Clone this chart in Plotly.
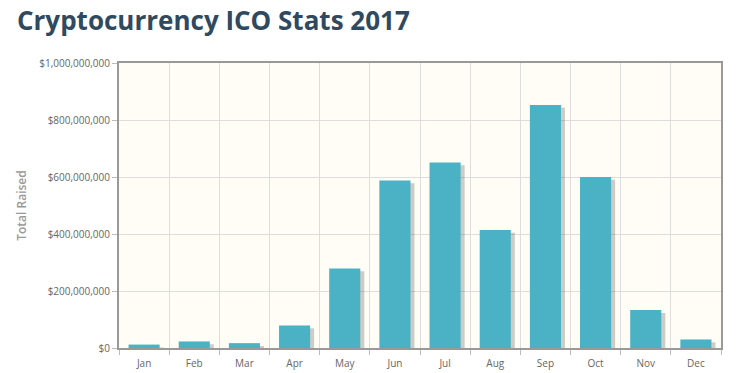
import plotly.graph_objects as go

months = ["Jan", "Feb", "Mar", "Apr", "May", "Jun", "Jul", "Aug", "Sep", "Oct", "Nov", "Dec"]
raised = [12e6, 23e6, 17e6, 79e6, 279e6, 588e6, 651e6, 414e6, 853e6, 600e6, 133e6, 30e6]
y_ticks = [0, 2e8, 4e8, 6e8, 8e8, 1e9]

shadow_drop = 10e6
shadow_vals = [max(v - shadow_drop, 0) for v in raised]

W, H = 740, 373
ML, MR, MT, MB = 119, 19, 63, 25
PW, PH = W - ML - MR, H - MT - MB

fig = go.Figure()
fig.add_trace(go.Bar(
    x=months, y=shadow_vals, width=0.62, offset=-0.23,
    marker=dict(color="rgba(60,60,60,0.25)", line=dict(width=0)),
    hoverinfo="skip", showlegend=False,
))
fig.add_trace(go.Bar(
    x=months, y=raised, width=0.62, offset=-0.31,
    marker=dict(color="#4bb2c5", line=dict(width=0)),
    showlegend=False,
))

fig.add_annotation(
    text="<b>Cryptocurrency ICO Stats 2017</b>",
    font=dict(family="Open Sans", size=26, color="#2f4a5f"),
    xref="paper", yref="paper",
    x=(16 - ML) / PW, xanchor="left",
    y=1 + (MT - 1) / PH, yanchor="top",
    showarrow=False, borderpad=0,
)

fig.update_layout(
    width=W, height=H, autosize=False,
    margin=dict(l=ML, r=MR, t=MT, b=MB),
    paper_bgcolor="white",
    plot_bgcolor="#fffdf6",
    barmode="overlay",
    font=dict(family="Open Sans", color="#666666", size=10),
    xaxis=dict(
        type="category", tickson="boundaries", automargin=False,
        showgrid=True, gridcolor="#dddddd", gridwidth=1,
        ticks="outside", ticklen=5, tickcolor="#bbbbbb",
        showline=True, linecolor="#999999", linewidth=2, mirror=True,
        tickfont=dict(size=10, color="#666666"),
        ticklabelstandoff=5,
        range=[-0.5, 11.5],
    ),
    yaxis=dict(
        range=[0, 1e9], tickvals=y_ticks, tickformat="$,.0f", automargin=False,
        showgrid=True, gridcolor="#dddddd", gridwidth=1,
        ticks="outside", ticklen=5, tickcolor="#bbbbbb",
        showline=True, linecolor="#999999", linewidth=2, mirror=True,
        tickfont=dict(size=10, color="#666666"),
        zeroline=False,
        title=dict(text="Total Raised", font=dict(size=12, color="#999999", family="Open Sans", weight=600), standoff=10),
    ),
)

fig.write_html(
    "out.html",
    config={"displayModeBar": False},
    post_script="document.body.style.margin='0';document.body.style.overflow='hidden';",
)
